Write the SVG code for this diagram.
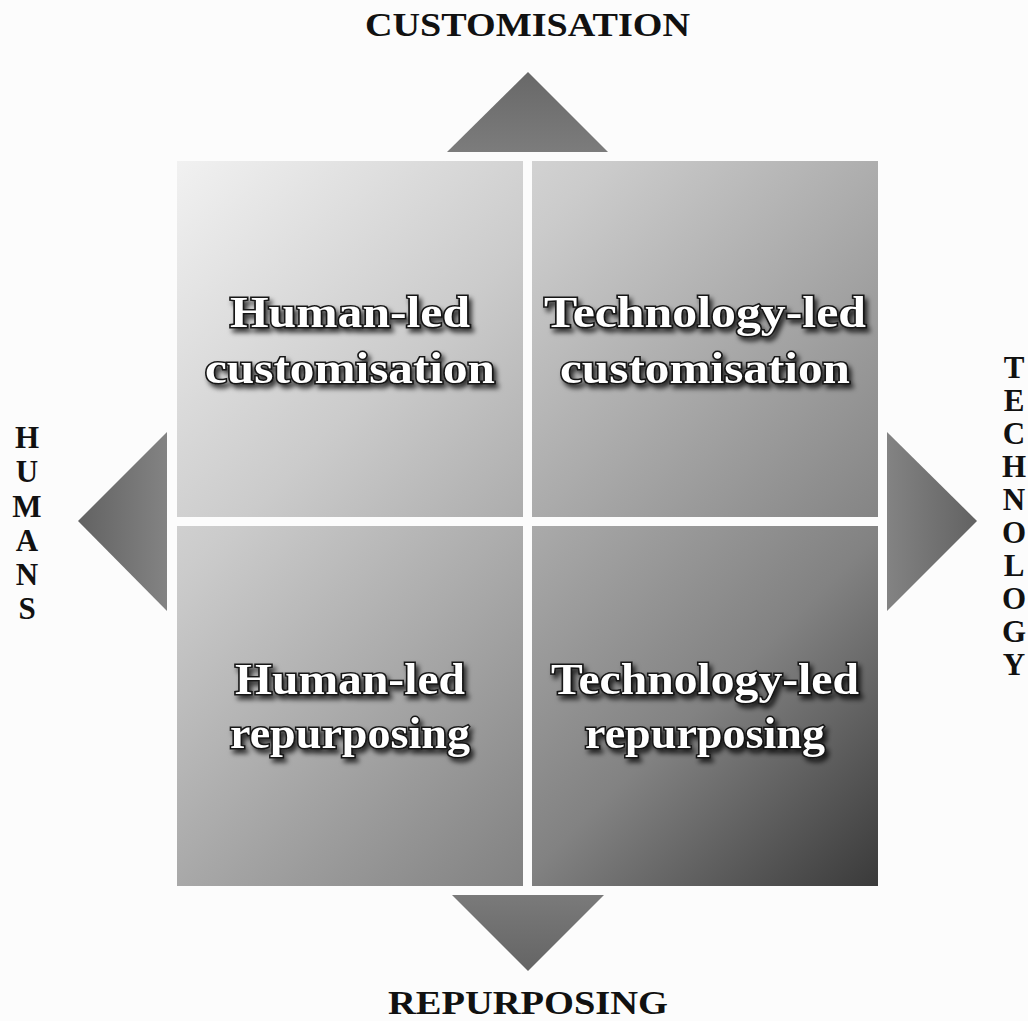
<svg xmlns="http://www.w3.org/2000/svg" width="1028" height="1021" viewBox="0 0 1028 1021">
  <defs>
    <linearGradient id="quadGrad" gradientUnits="userSpaceOnUse" x1="177" y1="161" x2="878" y2="886">
      <stop offset="0" stop-color="#f1f1f1"/>
      <stop offset="0.3" stop-color="#cbcbcb"/>
      <stop offset="0.5" stop-color="#ababab"/>
      <stop offset="0.75" stop-color="#828282"/>
      <stop offset="1" stop-color="#3a3a3a"/>
    </linearGradient>
    <linearGradient id="triUp" x1="0" y1="0" x2="0" y2="1">
      <stop offset="0" stop-color="#686868"/>
      <stop offset="1" stop-color="#7c7c7c"/>
    </linearGradient>
    <linearGradient id="triDown" x1="0" y1="1" x2="0" y2="0">
      <stop offset="0" stop-color="#646464"/>
      <stop offset="1" stop-color="#7a7a7a"/>
    </linearGradient>
    <linearGradient id="triLeft" x1="0" y1="0" x2="1" y2="0">
      <stop offset="0" stop-color="#626262"/>
      <stop offset="1" stop-color="#838383"/>
    </linearGradient>
    <linearGradient id="triRight" x1="1" y1="0" x2="0" y2="0">
      <stop offset="0" stop-color="#626262"/>
      <stop offset="1" stop-color="#838383"/>
    </linearGradient>
    <filter id="shadow" x="-10%" y="-30%" width="125%" height="170%">
      <feDropShadow dx="3" dy="4" stdDeviation="2.5" flood-color="#000" flood-opacity="0.75"/>
    </filter>
  </defs>
  <style>
    .quad { fill: url(#quadGrad); }
    .qtext { font-family: "Liberation Serif", "Times New Roman", serif; font-weight: bold; font-size: 44px; fill: #ffffff; stroke: #151515; stroke-width: 3px; paint-order: stroke fill; text-anchor: middle; filter: url(#shadow); }
    .axis { font-family: "Liberation Serif", "Times New Roman", serif; font-weight: bold; font-size: 34px; fill: #111; }
    .vaxis { font-family: "Liberation Serif", "Times New Roman", serif; font-weight: bold; font-size: 31px; fill: #111; }
  </style>
  <rect x="0" y="0" width="1028" height="1021" fill="#fcfcfc"/>

  <g id="connectors">
    <polygon id="arrow-up" points="528,72 608,152 447,152" fill="url(#triUp)"/>
    <polygon id="arrow-down" points="452,895 604,895 528,971" fill="url(#triDown)"/>
    <polygon id="arrow-left" points="78,521 167,432 167,611" fill="url(#triLeft)"/>
    <polygon id="arrow-right" points="977,521 887,432 887,611" fill="url(#triRight)"/>
  </g>

  <g id="q-human-custom">
    <rect class="quad" x="177" y="161" width="346" height="356"/>
    <text class="qtext" x="350" y="327" textLength="240" lengthAdjust="spacingAndGlyphs">Human-led</text>
    <text class="qtext" x="350" y="383" textLength="290" lengthAdjust="spacingAndGlyphs">customisation</text>
  </g>
  <g id="q-tech-custom">
    <rect class="quad" x="532" y="161" width="346" height="356"/>
    <text class="qtext" x="705" y="327" textLength="322" lengthAdjust="spacingAndGlyphs">Technology-led</text>
    <text class="qtext" x="705" y="383" textLength="290" lengthAdjust="spacingAndGlyphs">customisation</text>
  </g>
  <g id="q-human-repurp">
    <rect class="quad" x="177" y="526" width="346" height="360"/>
    <text class="qtext" x="350" y="694" textLength="230" lengthAdjust="spacingAndGlyphs">Human-led</text>
    <text class="qtext" x="350" y="748" textLength="240" lengthAdjust="spacingAndGlyphs">repurposing</text>
  </g>
  <g id="q-tech-repurp">
    <rect class="quad" x="532" y="526" width="346" height="360"/>
    <text class="qtext" x="705" y="694" textLength="308" lengthAdjust="spacingAndGlyphs">Technology-led</text>
    <text class="qtext" x="705" y="748" textLength="240" lengthAdjust="spacingAndGlyphs">repurposing</text>
  </g>

  <g id="label-customisation">
    <text class="axis" x="365" y="36" textLength="325" lengthAdjust="spacingAndGlyphs">CUSTOMISATION</text>
  </g>
  <g id="label-repurposing">
    <text class="axis" x="388" y="1014" textLength="280" lengthAdjust="spacingAndGlyphs">REPURPOSING</text>
  </g>
  <g id="label-humans" class="vaxis" text-anchor="middle">
    <text x="27" y="448">H</text>
    <text x="27" y="482">U</text>
    <text x="27" y="517">M</text>
    <text x="27" y="551">A</text>
    <text x="27" y="585">N</text>
    <text x="27" y="619">S</text>
  </g>
  <g id="label-technology" class="vaxis" text-anchor="middle">
    <text x="1014" y="378">T</text>
    <text x="1014" y="411">E</text>
    <text x="1014" y="444">C</text>
    <text x="1014" y="477">H</text>
    <text x="1014" y="510">N</text>
    <text x="1014" y="543">O</text>
    <text x="1014" y="576">L</text>
    <text x="1014" y="609">O</text>
    <text x="1014" y="642">G</text>
    <text x="1014" y="675">Y</text>
  </g>
</svg>
